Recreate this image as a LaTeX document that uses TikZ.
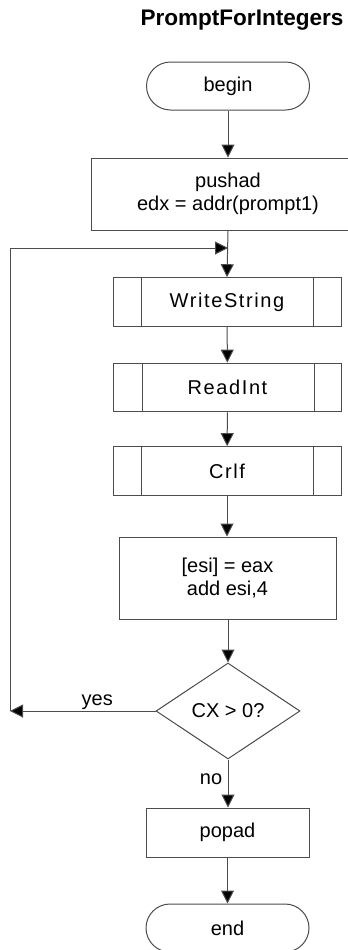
\documentclass[tikz,border=0pt]{standalone}
\usepackage{fontspec}
\setmainfont{Liberation Sans}
\usetikzlibrary{arrows.meta,shapes.geometric}
\newfontfamily\spacedfont[LetterSpace=8]{Liberation Sans}

\tikzset{
  x=0.75pt, y=-0.75pt,
  every node/.style={font=\fontsize{15}{17.25}\selectfont, text=black, align=center},
  line/.style={draw=black!70, line width=0.75pt},
  flow/.style={line, -{Triangle[width=9.75pt,length=9.75pt,fill=black]}},
  terminal/.style={line, rectangle, rounded corners=18pt, minimum width=122.25pt, minimum height=36pt, inner sep=0pt},
  process/.style={line, rectangle, inner sep=0pt},
  subproc/.style={line, rectangle, minimum width=171pt, minimum height=36.5pt, inner sep=0pt, font=\fontsize{15}{17.25}\spacedfont},
  decision/.style={line, diamond, shape aspect=1.5, minimum width=108pt, minimum height=72pt, inner sep=0pt},
  lbl/.style={font=\fontsize{15}{17.25}\selectfont, inner sep=1pt},
}

\begin{document}
\begin{tikzpicture}
  \useasboundingbox (0,0) rectangle (348,950);
  \clip (0,0) rectangle (348,950);

  % title
  \node[font=\fontsize{16.9}{20}\selectfont\bfseries] (title) at (242,20) {PromptForIntegers};

  % main column
  \node[terminal] (begin) at (228,86) {begin};
  \node[process, minimum width=205.5pt, minimum height=54pt] (init) at (228,194) {pushad\\edx = addr(prompt1)};
  \node[subproc] (ws) at (227,302) {WriteString};
  \node[subproc] (ri) at (227.5,387.5) {ReadInt};
  \node[subproc] (crlf) at (227,471) {Crlf};
  \node[process, minimum width=162.75pt, minimum height=61.5pt] (store) at (227.5,578) {[esi] = eax\\add esi,4};
  \node[decision] (test) at (228,711) {CX > 0?};
  \node[process, minimum width=122.25pt, minimum height=36.75pt] (pop) at (227.5,832.5) {popad};
  \node[terminal] (finish) at (227.5,928) {end};

  % inner bars of the predefined-process boxes
  \foreach \n in {ws,ri,crlf} {
    \draw[line] ([xshift=21.75pt]\n.north west) -- ([xshift=21.75pt]\n.south west);
    \draw[line] ([xshift=-21pt]\n.north east) -- ([xshift=-21pt]\n.south east);
  }

  % loop points
  \coordinate (join) at (228,248);
  \coordinate (back) at (10,711);

  % connectors
  \draw[flow] (begin) -- (init);
  \draw[flow] (init.south) -- (ws.north);
  \draw[flow] (ws) -- (ri);
  \draw[flow] (ri) -- (crlf);
  \draw[flow] (crlf.south) -- (crlf.south |- store.north);
  \draw[flow] (store.south -| test.north) -- (test.north);
  \draw[flow] (test.west) -- node[lbl, above, pos=0.4] (yes) {yes} (back);
  \draw[flow] (back) |- (join);
  \draw[flow] (test.south) -- node[lbl, left, pos=0.42, xshift=-3pt] (no) {no} (test.south |- pop.north);
  \draw[flow] (pop.south -| finish.north) -- (finish.north);
\end{tikzpicture}
\end{document}
